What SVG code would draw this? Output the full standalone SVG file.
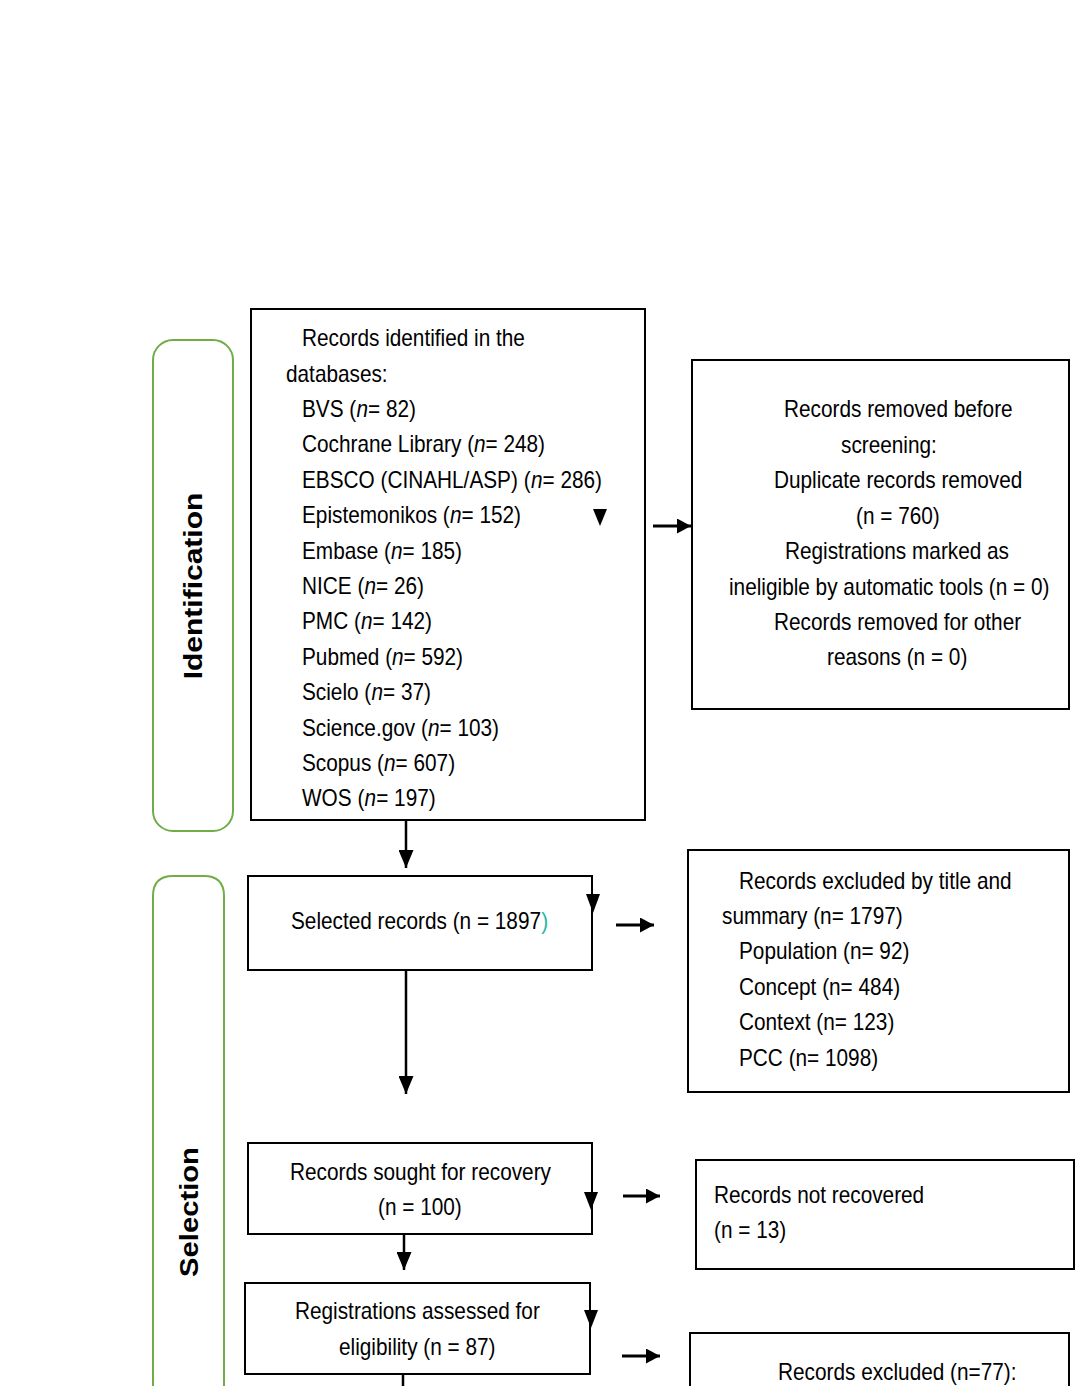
<svg xmlns="http://www.w3.org/2000/svg" width="1084" height="1386" viewBox="0 0 1084 1386">
<style>
.box{fill:#fff;stroke:#000;stroke-width:2}
.phase{fill:none;stroke:#70AD47;stroke-width:2}
.t{font-family:"Liberation Sans",Arial,sans-serif;font-size:23px;fill:#000}
.i{font-style:italic}
.cy{fill:#1FB5A6}
.lbl{font-family:"Liberation Sans",Arial,sans-serif;font-size:25px;font-weight:bold;fill:#000;text-anchor:middle}
.ln{stroke:#000;stroke-width:2.5;fill:none}
.lnh{stroke:#000;stroke-width:3;fill:none}
.tri{fill:#000}
</style>
<defs>
<marker id="av" markerUnits="userSpaceOnUse" viewBox="0 0 10 10" refX="10" refY="5" markerWidth="18" markerHeight="15" orient="auto" preserveAspectRatio="none"><path d="M0,0 L10,5 L0,10 z" fill="#000"/></marker>
<marker id="ah" markerUnits="userSpaceOnUse" viewBox="0 0 10 10" refX="10" refY="5" markerWidth="14" markerHeight="15" orient="auto" preserveAspectRatio="none"><path d="M0,0 L10,5 L0,10 z" fill="#000"/></marker>
</defs>
<rect width="1084" height="1386" fill="#fff"/>

<g id="phase-identification">
<rect class="phase" x="153" y="340" width="80" height="491" rx="20" ry="20"/>
<text class="lbl" transform="translate(202,586) rotate(-90) scale(1.2,1)">Identification</text>
</g>
<g id="phase-selection">
<path class="phase" d="M153,1400 V896 Q153,876 173,876 H204 Q224,876 224,896 V1400"/>
<text class="lbl" transform="translate(198,1212) rotate(-90) scale(1.17,1)">Selection</text>
</g>

<g id="node-identified">
<rect class="box" x="251" y="309" width="394" height="511"/>
<text class="t" transform="translate(302,346) scale(.904,1)">Records identified in the</text>
<text class="t" transform="translate(286,382) scale(.904,1)">databases:</text>
<text class="t" transform="translate(302,417) scale(.904,1)">BVS (</text><text class="t i" transform="translate(356.4,417) scale(.904,1)">n</text><text class="t" transform="translate(368,417) scale(.904,1)">= 82)</text>
<text class="t" transform="translate(302,452) scale(.904,1)">Cochrane Library (</text><text class="t i" transform="translate(474,452) scale(.904,1)">n</text><text class="t" transform="translate(485.5,452) scale(.904,1)">= 248)</text>
<text class="t" transform="translate(302,488) scale(.904,1)">EBSCO (CINAHL/ASP) (</text><text class="t i" transform="translate(530.9,488) scale(.904,1)">n</text><text class="t" transform="translate(542.5,488) scale(.904,1)">= 286)</text>
<text class="t" transform="translate(302,523) scale(.904,1)">Epistemonikos (</text><text class="t i" transform="translate(449.9,523) scale(.904,1)">n</text><text class="t" transform="translate(461.5,523) scale(.904,1)">= 152)</text>
<text class="t" transform="translate(302,559) scale(.904,1)">Embase (</text><text class="t i" transform="translate(390.9,559) scale(.904,1)">n</text><text class="t" transform="translate(402.5,559) scale(.904,1)">= 185)</text>
<text class="t" transform="translate(302,594) scale(.904,1)">NICE (</text><text class="t i" transform="translate(364.4,594) scale(.904,1)">n</text><text class="t" transform="translate(376,594) scale(.904,1)">= 26)</text>
<text class="t" transform="translate(302,629) scale(.904,1)">PMC (</text><text class="t i" transform="translate(360.9,629) scale(.904,1)">n</text><text class="t" transform="translate(372.5,629) scale(.904,1)">= 142)</text>
<text class="t" transform="translate(302,665) scale(.904,1)">Pubmed (</text><text class="t i" transform="translate(392,665) scale(.904,1)">n</text><text class="t" transform="translate(403.5,665) scale(.904,1)">= 592)</text>
<text class="t" transform="translate(302,700) scale(.904,1)">Scielo (</text><text class="t i" transform="translate(371.4,700) scale(.904,1)">n</text><text class="t" transform="translate(383,700) scale(.904,1)">= 37)</text>
<text class="t" transform="translate(302,736) scale(.904,1)">Science.gov (</text><text class="t i" transform="translate(427.9,736) scale(.904,1)">n</text><text class="t" transform="translate(439.5,736) scale(.904,1)">= 103)</text>
<text class="t" transform="translate(302,771) scale(.904,1)">Scopus (</text><text class="t i" transform="translate(384,771) scale(.904,1)">n</text><text class="t" transform="translate(395.6,771) scale(.904,1)">= 607)</text>
<text class="t" transform="translate(302,806) scale(.904,1)">WOS (</text><text class="t i" transform="translate(364.6,806) scale(.904,1)">n</text><text class="t" transform="translate(376.2,806) scale(.904,1)">= 197)</text>
</g>

<g id="node-removed">
<rect class="box" x="692" y="360" width="377" height="349"/>
<text class="t" transform="translate(784,417) scale(.904,1)">Records removed before</text>
<text class="t" transform="translate(841,453) scale(.904,1)">screening:</text>
<text class="t" transform="translate(774,488) scale(.904,1)">Duplicate records removed</text>
<text class="t" transform="translate(856,524) scale(.904,1)">(n = 760)</text>
<text class="t" transform="translate(785,559) scale(.904,1)">Registrations marked as</text>
<text class="t" transform="translate(729,595) scale(.904,1)">ineligible by automatic tools (n = 0)</text>
<text class="t" transform="translate(774,630) scale(.904,1)">Records removed for other</text>
<text class="t" transform="translate(827,665) scale(.904,1)">reasons (n = 0)</text>
</g>

<g id="node-selected">
<rect class="box" x="248" y="876" width="344" height="94"/>
<text class="t" transform="translate(291,929) scale(.904,1)">Selected records (n = 1897</text><text class="t cy" transform="translate(541.2,929) scale(.904,1)">)</text>
</g>

<g id="node-excluded-title">
<rect class="box" x="688" y="850" width="381" height="242"/>
<text class="t" transform="translate(739,889) scale(.904,1)">Records excluded by title and</text>
<text class="t" transform="translate(722,924) scale(.904,1)">summary (n= 1797)</text>
<text class="t" transform="translate(739,959) scale(.904,1)">Population (n= 92)</text>
<text class="t" transform="translate(739,995) scale(.904,1)">Concept (n= 484)</text>
<text class="t" transform="translate(739,1030) scale(.904,1)">Context (n= 123)</text>
<text class="t" transform="translate(739,1066) scale(.904,1)">PCC (n= 1098)</text>
</g>

<g id="node-sought">
<rect class="box" x="248" y="1143" width="344" height="91"/>
<text class="t" transform="translate(290,1180) scale(.904,1)">Records sought for recovery</text>
<text class="t" transform="translate(378,1215) scale(.904,1)">(n = 100)</text>
</g>

<g id="node-not-recovered">
<rect class="box" x="696" y="1160" width="378" height="109"/>
<text class="t" transform="translate(714,1203) scale(.904,1)">Records not recovered</text>
<text class="t" transform="translate(714,1238) scale(.904,1)">(n = 13)</text>
</g>

<g id="node-assessed">
<rect class="box" x="245" y="1283" width="345" height="91"/>
<text class="t" transform="translate(295,1319) scale(.904,1)">Registrations assessed for</text>
<text class="t" transform="translate(339,1355) scale(.904,1)">eligibility (n = 87)</text>
</g>

<g id="node-excluded">
<rect class="box" x="690" y="1333" width="379" height="100"/>
<text class="t" transform="translate(778,1380) scale(.904,1)">Records excluded (n=77):</text>
</g>

<g id="connectors">
<line class="ln" x1="406" y1="821" x2="406" y2="868" marker-end="url(#av)"/>
<line class="lnh" x1="653" y1="526" x2="691" y2="526" marker-end="url(#ah)"/>
<line class="lnh" x1="616" y1="925" x2="654" y2="925" marker-end="url(#ah)"/>
<line class="ln" x1="406" y1="970" x2="406" y2="1094" marker-end="url(#av)"/>
<line class="lnh" x1="623" y1="1196" x2="660" y2="1196" marker-end="url(#ah)"/>
<line class="ln" x1="404" y1="1234" x2="404" y2="1270" marker-end="url(#av)"/>
<line class="lnh" x1="622" y1="1356" x2="660" y2="1356" marker-end="url(#ah)"/>
<line class="ln" x1="403" y1="1374" x2="403" y2="1386"/>
<polygon class="tri" points="593,509 607,509 600,526"/>
<polygon class="tri" points="586,894 600,894 593,913"/>
<polygon class="tri" points="584,1192 598,1192 591,1210"/>
<polygon class="tri" points="584,1310 598,1310 591,1328"/>
</g>
</svg>
